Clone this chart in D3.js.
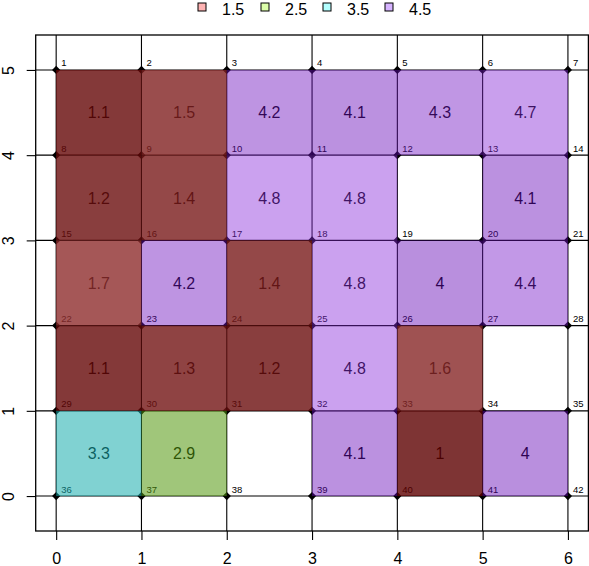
<!DOCTYPE html>
<html><head><meta charset="utf-8">
<script src="https://cdn.jsdelivr.net/npm/d3@7"></script>
<style>body{margin:0;background:#fff}svg{display:block;font-family:"Liberation Sans",Arial,sans-serif}</style>
</head><body><div id="chart"></div>
<script>
// ---- data ----
const xTicks = [0,1,2,3,4,5,6];
const yTicks = [0,1,2,3,4,5];
const rowBottoms = [4,3,2,1,0];          // lower y of each row of cells (top row first)
const row4 = [1.1, 1.5, 4.2, 4.1, 4.3, 4.7];
const row3 = [1.2, 1.4, 4.8, 4.8, null, 4.1];
const row2 = [1.7, 4.2, 1.4, 4.8, 4, 4.4];
const row1 = [1.1, 1.3, 1.2, 4.8, 1.6, null];
const row0 = [3.3, 2.9, null, 4.1, 1, 4];
const legendLabels = ["1.5","2.5","3.5","4.5"];
const legendColors = ["#ffb3b3","#ddffaa","#b3ffff","#d6b3ff"];

const W = 589, H = 566;
const svg = d3.select("#chart").append("svg").attr("width", W).attr("height", H);
const x = d3.scaleLinear().domain([-0.24, 6.24]).range([35.7, 588.4]);
const y = d3.scaleLinear().domain([-0.41, 5.41]).range([531, 35]);

// colour appearance per group (value -> on-white appearance), alpha per group
const groups = [
  {lo:-Infinity, hi:2, alpha:0.8, dom:[1.0,1.7], cols:["rgb(126,52,52)","rgb(165,87,87)"]},
  {lo:2, hi:3, alpha:0.55, dom:[2,3], cols:["rgb(160,198,122)","rgb(160,198,122)"]},
  {lo:3, hi:4, alpha:0.55, dom:[3,4], cols:["rgb(128,210,210)","rgb(128,210,210)"]},
  {lo:4, hi:Infinity, alpha:0.45, dom:[4.0,4.8], cols:["rgb(185,143,222)","rgb(203,161,239)"]}
];
function cellStyle(v){
  const g = groups.find(g => v >= g.lo && v < g.hi);
  const target = d3.rgb(d3.scaleLinear().domain(g.dom).range(g.cols).clamp(true)(v));
  const a = g.alpha, cl = c => Math.max(0, Math.min(255, Math.round((c - (1-a)*255)/a)));
  return {fill: d3.rgb(cl(target.r), cl(target.g), cl(target.b)).formatHex(), alpha: a};
}

// cells
const rows = [row4,row3,row2,row1,row0];
const cells = [];
rows.forEach((r,i) => r.forEach((v,j) => { if (v !== null) cells.push({x0:j, y0:rowBottoms[i], v}); }));

// points
const points = [];
yTicks.slice().reverse().forEach(yy => xTicks.forEach(xx => points.push({x:xx, y:yy, id: points.length+1})));

// box
svg.append("rect").attr("x", x(-0.24)).attr("y", y(5.41)).attr("width", x(6.24)-x(-0.24)).attr("height", y(-0.41)-y(5.41))
  .attr("fill","none").attr("stroke","#000").attr("stroke-width",1.3);

// grid lines
svg.append("g").selectAll("line").data(xTicks).join("line")
  .attr("x1", d=>x(d)).attr("x2", d=>x(d)).attr("y1", y(5.41)).attr("y2", y(-0.41)).attr("stroke","#000").attr("stroke-width",1.1);
svg.append("g").selectAll("line").data(yTicks).join("line")
  .attr("y1", d=>y(d)).attr("y2", d=>y(d)).attr("x1", x(-0.24)).attr("x2", x(6.24)).attr("stroke","#000").attr("stroke-width",1.1);

// axes
const xAxis = svg.append("g").attr("transform",`translate(0,${y(-0.41)})`)
  .call(d3.axisBottom(x).tickValues(xTicks).tickSize(9).tickFormat(d3.format("d")));
xAxis.select(".domain").remove();
xAxis.selectAll("text").attr("font-size",16).attr("font-family","Liberation Sans, Arial").attr("fill","#000")
  .attr("y",22).attr("dy","0.71em");
xAxis.selectAll("line").attr("stroke-width",1.1);
const yAxis = svg.append("g").attr("transform",`translate(${x(-0.24)},0)`)
  .call(d3.axisLeft(y).tickValues(yTicks).tickSize(9).tickFormat(d3.format("d")));
yAxis.select(".domain").remove();
yAxis.selectAll("line").attr("stroke-width",1.1);
yAxis.selectAll("text").attr("font-size",16).attr("font-family","Liberation Sans, Arial").attr("fill","#000")
  .attr("x",0).attr("dy",0).attr("text-anchor","middle")
  .attr("transform","translate(-22,0) rotate(-90)");

// points
svg.append("g").selectAll("path").data(points).join("path")
  .attr("d", d3.symbol(d3.symbolSquare, 34)())
  .attr("transform", d=>`translate(${x(d.x)},${y(d.y)}) rotate(45)`).attr("fill","#000");
svg.append("g").selectAll("text").data(points).join("text")
  .attr("x", d=>x(d.x)+5).attr("y", d=>y(d.y)-3.5).attr("font-size",9.5).attr("fill","#000").text(d=>d.id);

// value text
svg.append("g").selectAll("text").data(cells).join("text")
  .attr("x", d=>x(d.x0+0.5)).attr("y", d=>y(d.y0+0.5)).attr("dy","0.36em").attr("text-anchor","middle")
  .attr("font-size",16).attr("fill","#000").text(d=>d.v);

// overlay cells
svg.append("g").selectAll("rect").data(cells).join("rect")
  .attr("x", d=>x(d.x0)).attr("y", d=>y(d.y0+1)).attr("width", d=>x(d.x0+1)-x(d.x0)).attr("height", d=>y(d.y0)-y(d.y0+1))
  .each(function(d){ const s = cellStyle(d.v); d3.select(this).attr("fill", s.fill).attr("fill-opacity", s.alpha); });

// legend
const legX = [198, 261, 323, 385];
const leg = svg.append("g");
legendLabels.forEach((lab,i) => {
  leg.append("rect").attr("x", legX[i]).attr("y", 3).attr("width", 8).attr("height", 8)
    .attr("fill", legendColors[i]).attr("stroke","#000").attr("stroke-width",1);
  leg.append("text").attr("x", legX[i]+24).attr("y", 15).attr("font-size",16).attr("fill","#000").text(lab);
});
</script></body></html>
